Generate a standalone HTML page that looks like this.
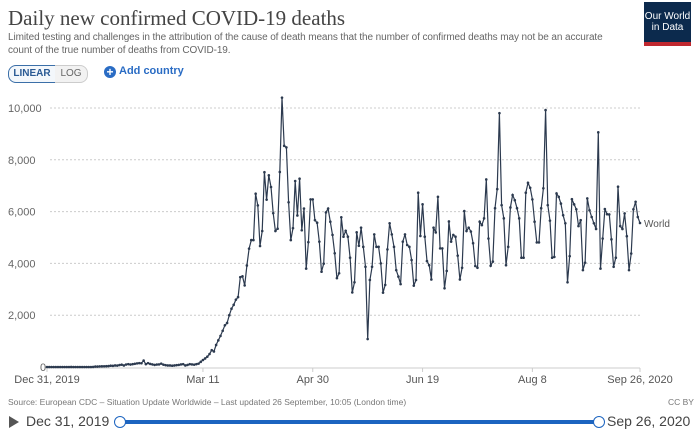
<!DOCTYPE html>
<html><head><meta charset="utf-8"><style>
body{margin:0;width:700px;height:434px;background:#fff;font-family:"Liberation Sans",sans-serif;overflow:hidden;position:relative}
.t{position:absolute;white-space:nowrap}
</style></head><body>
<div class="t" style="left:8px;top:6px;font-family:'Liberation Serif',serif;font-size:21px;color:#444">Daily new confirmed COVID-19 deaths</div>
<div class="t" style="left:8px;top:31px;font-size:10px;color:#666;line-height:13px;white-space:normal;width:605px;letter-spacing:-0.1px">Limited testing and challenges in the attribution of the cause of death means that the number of confirmed deaths may not be an accurate count of the true number of deaths from COVID-19.</div>
<div style="position:absolute;left:644px;top:2px;width:47px;height:44px;background:#0c2a4d;border-bottom:4px solid #c0282f;box-sizing:border-box;color:#fff;font-size:10px;line-height:11px;text-align:center;padding-top:9px">Our World<br>in Data</div>
<div style="position:absolute;left:8px;top:65px;width:46px;height:16px;border:1px solid #3b6fa8;border-radius:8px 0 0 8px;font-size:10px;color:#2a5a94;text-align:center;line-height:16px;font-weight:bold;background:#f3f7fb">LINEAR</div>
<div style="position:absolute;left:55px;top:65px;width:32px;height:16px;border:1px solid #ccc;border-left:none;border-radius:0 8px 8px 0;font-size:10px;color:#666;text-align:center;line-height:16px;background:#f2f2f2">LOG</div>
<div style="position:absolute;left:104px;top:66px;width:12px;height:12px;border-radius:50%;background:#2a6cc4;color:#fff;font-size:12px;line-height:12px;text-align:center;font-weight:bold">+</div>
<div class="t" style="left:119px;top:65px;font-size:11px;color:#2a6cc4;font-weight:bold">Add country</div>
<svg id="chart" width="700" height="434" style="position:absolute;left:0;top:0"></svg>
<div class="t" style="left:8px;top:397px;font-size:8.5px;color:#777">Source: European CDC – Situation Update Worldwide – Last updated 26 September, 10:05 (London time)</div>
<div class="t" style="left:668px;top:397px;font-size:8.5px;color:#777">CC BY</div>
<div style="position:absolute;left:9px;top:416px;width:0;height:0;border-left:10px solid #555;border-top:6px solid transparent;border-bottom:6px solid transparent"></div>
<div class="t" style="left:26px;top:413px;font-size:14px;color:#444">Dec 31, 2019</div>
<div style="position:absolute;left:120px;top:420px;width:478px;height:4px;background:#1c64c0"></div>
<div style="position:absolute;left:114px;top:416px;width:10px;height:10px;border-radius:50%;border:1px solid #1c64c0;background:#fff"></div>
<div style="position:absolute;left:593px;top:416px;width:10px;height:10px;border-radius:50%;border:1px solid #1c64c0;background:#fff"></div>
<div class="t" style="left:607px;top:413px;font-size:14px;color:#444">Sep 26, 2020</div>
<script>
const yTicks=[0,2000,4000,6000,8000,10000];
const xTickDays=[0,71,121,171,221,270];
const xTickLabels=["Dec 31, 2019","Mar 11","Apr 30","Jun 19","Aug 8","Sep 26, 2020"];
const early=[0,0,0,0,0,0,0,0,0,0,0,1,0,0,0,0,0,0,0,0,0,3,15,16,23,25,28,30,35,50,45,60,55,75,90,60,95,110,95,110,125,140,150,145,250,110,150,120,100,80,95,100,130,90,70,60,60,50,60,70,80,100,110,60,80,110,100,90,110];
const rise=[130,200,270,330,400,500,650,600,850,1030,1200,1400,1610,1700,2000,2250,2400,2600,2700,3470,3500,3150,3920,4570,4900,4900];
const mid=[6690,6240,4670,5250,7520,6460,7400,6950,5940,5250,5340,7530,10400,8540,8480,6360,4900,5360,7180,5850,7270,5280,6120,3800,4820,6470,6470,5670,5570,4840,3680,3990,5970,6120,5610,5100,4390,3430,3620,5780,5030,5260,5030,4220,2880,3270,5200,4680,5380,4640,3870,1080];
const late=[3360,3870,5120,4640,4640,4000,2870,3170,4540,5550,5120,4640,3740,3490,3200,4840,5120,4710,4640,4130,3140,3360,6730,5060,6280,5030,4090,3930,3380,5380,5200,6570,4580,4580,3040,3710,5620,4840,5100,5030,4300,3380,3830,6020,5250,5380,5230,4780,3900,3830,5610,5480,5740,7240,4960,3910,4070,6130,6870,9800,6250,5740,3930,4640,6160,6640,6440,6130,5740,4220,4220,6730,7110,6920,6470,5610,4810,4810,6130,6900,9920,6250,5650,4220,4250,6700,6570,6310,5860,5550,3270,4280,6480,6280,6090,5440,5670,3740,4030,6510,6050,5790,5550,5330,9060,3800,4960,6100,5900,5890,4930,3870,4220,6960,5440,5330,5930,5050,3740,4380,6090,6380,5790,5560];
const deaths=early.concat(rise,mid,late);
const svg=document.getElementById('chart'),NS='http://www.w3.org/2000/svg';
const X0=47,X1=640,Y0=367,Y1=108;
const xs=d=>X0+(X1-X0)*d/270, ys=v=>Y0-(Y0-Y1)*v/10000;
function mk(t,a){const e=document.createElementNS(NS,t);for(const k in a)e.setAttribute(k,a[k]);svg.appendChild(e);return e;}
yTicks.forEach(v=>{
 if(v>0){const g=mk('line',{x1:50,x2:640,y1:ys(v),y2:ys(v),stroke:'#ccc','stroke-dasharray':'2,2'});
 
 }
 const t=mk('text',{x:v?8:40,y:ys(v)+4,'font-size':11,fill:'#666','font-family':'Liberation Sans,sans-serif'});
 t.textContent=v.toLocaleString('en-US');
 
 
});
const ax=mk('line',{x1:X0,x2:X1,y1:Y0+1,y2:Y0+1,stroke:'#ccc'});


xTickDays.forEach((d,i)=>{
 const tk=mk('line',{x1:xs(d),x2:xs(d),y1:Y0+1,y2:Y0+5,stroke:'#ccc'});
 
 
 const t=mk('text',{x:xs(d),y:383,'font-size':11,fill:'#555','text-anchor':'middle','font-family':'Liberation Sans,sans-serif'});
 t.textContent=xTickLabels[i];
 
 
});
const pts=deaths.map((v,i)=>xs(i).toFixed(1)+','+ys(v).toFixed(1)).join(' ');
const pl=mk('polyline',{points:pts,fill:'none',stroke:'#2c3a4f','stroke-width':1.2});


deaths.forEach((v,i)=>{const c=mk('circle',{cx:xs(i),cy:ys(v),r:1.3,fill:'#2c3a4f'});
 
 });
const lb=mk('text',{x:xs(270)+4,y:ys(deaths[270])+4,'font-size':10,fill:'#555','font-family':'Liberation Sans,sans-serif'});
lb.textContent='World';


</script>
</body></html>
